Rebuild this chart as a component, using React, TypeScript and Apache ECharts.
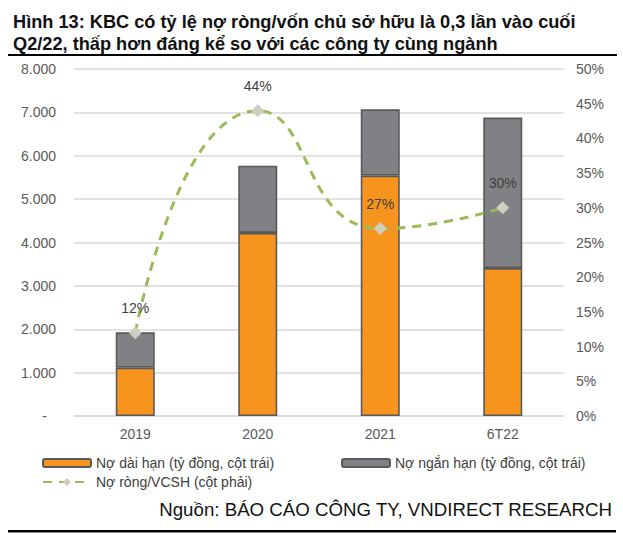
import React, { useEffect, useRef } from "react";
import * as echarts from "echarts";

const categories = ["2019", "2020", "2021", "6T22"];
const longTermDebt = [1115, 4220, 5540, 3410];
const shortTermDebt = [815, 1550, 1530, 3470];
const netDebtToEquity = [0.12, 0.44, 0.27, 0.3];

const titleText =
  "Hình 13: KBC có tỷ lệ nợ ròng/vốn chủ sở hữu là 0,3 lần vào cuối\nQ2/22, thấp hơn đáng kể so với các công ty cùng ngành";
const sourceText = "Nguồn: BÁO CÁO CÔNG TY, VNDIRECT RESEARCH";
const seriesNames = [
  "Nợ dài hạn (tỷ đồng, cột trái)",
  "Nợ ngắn hạn (tỷ đồng, cột trái)",
  "Nợ ròng/VCSH (cột phải)",
];

const FONT = "Liberation Sans, Arial, sans-serif";

export default function App() {
  const ref = useRef<HTMLDivElement>(null);
  useEffect(() => {
    if (!ref.current) return;
    const chart = echarts.init(ref.current, undefined, { renderer: "svg" });
    const fmtThousands = (v: number) =>
      v === 0 ? "{dash|-}" : String(v).replace(/\B(?=(\d{3})+(?!\d))/g, ".");
    const legendText = { fontFamily: FONT, fontSize: 14, color: "#404040" };
    chart.setOption({
      animation: false,
      backgroundColor: "#ffffff",
      textStyle: { fontFamily: FONT },
      title: {
        text: titleText,
        left: 8,
        top: 6,
        textStyle: {
          fontFamily: FONT,
          fontSize: 18.2,
          fontWeight: "bold",
          color: "#111111",
          lineHeight: 22,
        },
      },
      graphic: [
        {
          type: "rect",
          shape: { x: 8, y: 54, width: 609, height: 2 },
          style: { fill: "#000000" },
        },
        {
          type: "rect",
          shape: { x: 8, y: 530, width: 608, height: 2.5 },
          style: { fill: "#000000" },
        },
        {
          type: "text",
          x: 612,
          y: 509,
          style: {
            text: sourceText,
            fontFamily: FONT,
            fontSize: 18.7,
            fill: "#111111",
            align: "right",
            verticalAlign: "middle",
          },
        },
      ],
      legend: [
        {
          data: [seriesNames[0]],
          left: 37,
          top: 451,
          itemWidth: 48,
          itemHeight: 8,
          textStyle: legendText,
        },
        {
          data: [seriesNames[1]],
          left: 336,
          top: 451,
          itemWidth: 48,
          itemHeight: 8,
          textStyle: legendText,
        },
        {
          data: [seriesNames[2]],
          left: 37,
          top: 470,
          itemWidth: 48,
          itemHeight: 10,
          textStyle: legendText,
        },
      ],
      grid: { left: 74, right: 59, top: 69, bottom: 123 },
      xAxis: {
        type: "category",
        data: categories,
        axisLine: { show: true, lineStyle: { color: "#D9D9D9", width: 1.5 } },
        axisTick: { show: false },
        axisLabel: {
          fontFamily: FONT,
          fontSize: 14,
          color: "#595959",
          margin: 11,
        },
      },
      yAxis: [
        {
          type: "value",
          min: 0,
          max: 8000,
          interval: 1000,
          axisLine: { show: false },
          axisTick: { show: false },
          splitLine: { lineStyle: { color: "#D9D9D9", width: 1.5 } },
          axisLabel: {
            fontFamily: FONT,
            fontSize: 14,
            color: "#595959",
            margin: 18,
            formatter: fmtThousands,
            rich: {
              dash: {
                fontFamily: FONT,
                fontSize: 14,
                color: "#595959",
                padding: [0, 9, 0, 0],
              },
            },
          },
        },
        {
          type: "value",
          min: 0,
          max: 0.5,
          interval: 0.05,
          position: "right",
          axisLine: { show: false },
          axisTick: { show: false },
          splitLine: { show: false },
          axisLabel: {
            fontFamily: FONT,
            fontSize: 14,
            color: "#595959",
            margin: 12,
            formatter: (v: number) => Math.round(v * 100) + "%",
          },
        },
      ],
      series: [
        {
          name: seriesNames[0],
          type: "bar",
          stack: "debt",
          barWidth: 39,
          data: longTermDebt,
          itemStyle: {
            color: "#F7941D",
            borderColor: "#595959",
            borderWidth: 1.6,
          },
        },
        {
          name: seriesNames[1],
          type: "bar",
          stack: "debt",
          barWidth: 39,
          data: shortTermDebt,
          itemStyle: {
            color: "#808184",
            borderColor: "#595959",
            borderWidth: 1.6,
          },
        },
        {
          name: seriesNames[2],
          type: "line",
          yAxisIndex: 1,
          smooth: 0.55,
          data: netDebtToEquity,
          symbol: "diamond",
          symbolSize: 13,
          z: 5,
          lineStyle: { color: "#9BBB59", width: 3, type: [9, 7] },
          itemStyle: { color: "#CDCDC0" },
          label: {
            show: true,
            position: "top",
            distance: 11,
            fontFamily: FONT,
            fontSize: 14,
            color: "#404040",
            formatter: (p: any) => Math.round(p.value * 100) + "%",
          },
        },
      ],
    });
    return () => chart.dispose();
  }, []);
  return (
    <div
      ref={ref}
      style={{
        position: "fixed",
        left: 0,
        top: 0,
        width: 623,
        height: 539,
        background: "#ffffff",
      }}
    />
  );
}
